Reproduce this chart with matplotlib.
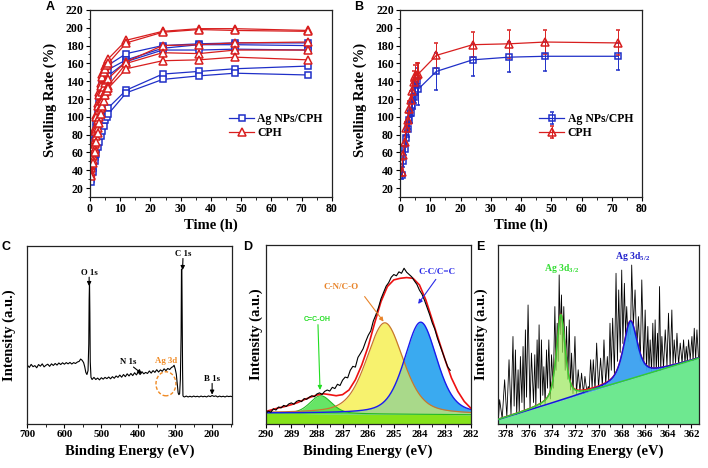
import numpy as np
import matplotlib
matplotlib.use('Agg')
import matplotlib.pyplot as plt
from matplotlib.patches import Ellipse
from matplotlib.ticker import MultipleLocator

plt.rcParams['font.family'] = 'serif'
plt.rcParams['font.serif'] = ['Liberation Serif', 'DejaVu Serif']
plt.rcParams['font.weight'] = 'bold'
plt.rcParams['axes.labelweight'] = 'bold'
plt.rcParams['mathtext.fontset'] = 'custom'
plt.rcParams['mathtext.rm'] = 'Liberation Serif:bold'
plt.rcParams['mathtext.it'] = 'Liberation Serif:italic:bold'
plt.rcParams['mathtext.bf'] = 'Liberation Serif:bold'

BLUE = '#1f2fc8'
RED = '#d81e1e'

# ---- swelling data (A: 5 replicates each, B: mean +- sd) ----
time_h = [0.5, 1, 1.5, 2, 2.5, 3, 3.5, 4, 4.5, 5, 5.5, 6, 12, 24, 36, 48, 72]

ag_rep1 = [45, 65, 80, 95, 108, 120, 130, 138, 145, 150, 155, 158, 171, 180, 182, 183, 183]
ag_rep2 = [40, 58, 73, 88, 100, 112, 122, 132, 140, 146, 150, 153, 164, 177, 181, 181, 180]
ag_rep3 = [36, 52, 66, 80, 92, 104, 114, 124, 132, 138, 142, 146, 162, 175, 175, 176, 175]
ag_rep4 = [30, 42, 55, 64, 72, 78, 85, 90, 97, 102, 106, 110, 130, 148, 151, 154, 157]
ag_rep5 = [27, 38, 50, 58, 66, 72, 78, 84, 90, 96, 100, 103, 127, 142, 146, 149, 147]

cph_rep1 = [45, 70, 88, 102, 115, 128, 138, 148, 152, 157, 162, 165, 186, 196, 199, 199, 197]
cph_rep2 = [42, 66, 84, 100, 112, 124, 135, 145, 150, 154, 158, 160, 183, 195, 198, 197, 196]
cph_rep3 = [38, 56, 70, 86, 96, 108, 118, 128, 134, 138, 141, 143, 162, 180, 181, 183, 184]
cph_rep4 = [35, 52, 64, 78, 88, 100, 110, 118, 124, 128, 132, 135, 160, 172, 171, 175, 175]
cph_rep5 = [33, 48, 60, 72, 82, 93, 103, 112, 118, 124, 129, 132, 154, 163, 164, 167, 164]

ag_mean = [35, 50, 64, 76, 86, 96, 104, 113, 122, 129, 140, 131, 151, 164, 167, 168, 168]
ag_sd = [5, 6, 7, 8, 9, 10, 11, 12, 13, 14, 15, 18, 21, 18, 17, 16, 15]
cph_mean = [38, 57, 72, 87, 96, 109, 119, 129, 139, 146, 147, 148, 169, 181, 182, 184, 183]
cph_sd = [4, 5, 6, 7, 8, 9, 10, 11, 12, 12, 13, 13, 14, 14, 16, 14, 14]

# ---- XPS survey (C), intensity in axis fraction ----
c_be = [700, 695, 690, 685, 680, 675, 670, 665, 660, 655, 650, 645, 640, 635, 630,
        625, 620, 615, 610, 605, 600, 595, 590, 585, 580, 575, 570, 565, 560, 556,
        552, 548, 545, 542, 539, 536, 534, 533, 532, 531, 530, 528, 525, 520, 515,
        510, 505, 500, 495, 490, 485, 480, 475, 470, 465, 460, 455, 450, 445, 440,
        435, 430, 425, 420, 415, 410, 405, 400, 395, 390, 385, 380, 375, 370, 365,
        360, 355, 350, 345, 340, 335, 330, 325, 320, 315, 310, 306, 303, 300, 297,
        294, 292, 290, 288, 286, 284, 283, 282, 281, 280, 279, 278, 275, 270, 265,
        260, 255, 250, 245, 240, 235, 230, 225, 220, 215, 210, 205, 200, 195, 190,
        185, 180, 175, 170, 165, 160, 155, 150, 145]
c_int = [0.330, 0.318, 0.335, 0.322, 0.328, 0.316, 0.334, 0.325, 0.338, 0.321, 0.330, 0.336, 0.324, 0.338, 0.329,
         0.340, 0.331, 0.343, 0.334, 0.344, 0.336, 0.345, 0.338, 0.346, 0.337, 0.345, 0.340, 0.348, 0.352, 0.365,
         0.358, 0.345, 0.322, 0.290, 0.278, 0.300, 0.450, 0.700, 0.800, 0.620, 0.350, 0.262, 0.250, 0.262, 0.250,
         0.258, 0.248, 0.260, 0.252, 0.262, 0.255, 0.264, 0.254, 0.266, 0.257, 0.270, 0.262, 0.275, 0.263, 0.278,
         0.266, 0.282, 0.270, 0.284, 0.272, 0.288, 0.276, 0.292, 0.278, 0.294, 0.282, 0.290, 0.284, 0.298, 0.286,
         0.300, 0.290, 0.305, 0.292, 0.304, 0.296, 0.310, 0.300, 0.312, 0.306, 0.318, 0.322, 0.330, 0.310, 0.280,
         0.220, 0.175, 0.165, 0.170, 0.250, 0.500, 0.870, 0.870, 0.600, 0.300, 0.160, 0.155, 0.152, 0.157, 0.152,
         0.156, 0.152, 0.157, 0.153, 0.156, 0.152, 0.157, 0.153, 0.156, 0.152, 0.158, 0.154, 0.160, 0.155, 0.158,
         0.152, 0.157, 0.153, 0.156, 0.152, 0.157, 0.154, 0.156, 0.153]

# ---- C 1s (D) ----
d_be = [290.0, 289.9, 289.8, 289.7, 289.6, 289.5, 289.4, 289.3, 289.2, 289.1, 289.0, 288.9, 288.8,
        288.7, 288.6, 288.5, 288.4, 288.3, 288.2, 288.1, 288.0, 287.9, 287.8, 287.7, 287.6, 287.5,
        287.4, 287.3, 287.2, 287.1, 287.0, 286.9, 286.8, 286.7, 286.6, 286.5, 286.4, 286.3, 286.2,
        286.1, 286.0, 285.9, 285.8, 285.7, 285.6, 285.5, 285.4, 285.3, 285.2, 285.1, 285.0, 284.9,
        284.8, 284.7, 284.6, 284.5, 284.4, 284.3, 284.2, 284.1, 284.0, 283.9, 283.8, 283.7, 283.6,
        283.5, 283.4, 283.3, 283.2, 283.1, 283.0, 282.9, 282.8]
d_int = [0.060, 0.072, 0.066, 0.085, 0.078, 0.095, 0.090, 0.104, 0.098, 0.112, 0.118, 0.110, 0.126,
         0.132, 0.125, 0.142, 0.138, 0.150, 0.158, 0.152, 0.168, 0.174, 0.165, 0.182, 0.190, 0.184,
         0.205, 0.198, 0.222, 0.215, 0.245, 0.262, 0.258, 0.300, 0.322, 0.318, 0.372, 0.395, 0.420,
         0.460, 0.495, 0.520, 0.575, 0.610, 0.650, 0.700, 0.735, 0.770, 0.790, 0.820, 0.835, 0.828,
         0.850, 0.842, 0.870, 0.848, 0.835, 0.822, 0.800, 0.780, 0.748, 0.725, 0.690, 0.650, 0.610,
         0.565, 0.530, 0.480, 0.440, 0.400, 0.360, 0.320, 0.300]
d_env_be = [290, 289.75, 289.5, 289.25, 289, 288.75, 288.5, 288.25, 288, 287.75, 287.5, 287.25,
            287, 286.75, 286.5, 286.25, 286, 285.75, 285.5, 285.25, 285, 284.75, 284.5, 284.25,
            284, 283.75, 283.5, 283.25, 283, 282.75, 282.5, 282.25, 282]
d_env = [0.070, 0.080, 0.090, 0.098, 0.108, 0.120, 0.136, 0.150, 0.162, 0.169, 0.164, 0.158,
         0.164, 0.190, 0.247, 0.330, 0.433, 0.563, 0.684, 0.768, 0.805, 0.814, 0.818, 0.814,
         0.777, 0.693, 0.582, 0.470, 0.359, 0.257, 0.182, 0.126, 0.089]
d_bg_ends = [0.060, 0.052]           # background at 290 and 282 eV
# fitted components: centre, height, half width, lorentz fraction
d_peaks = {'C=C-OH': (287.85, 0.100, 0.50, 0.3),
           'C-N/C-O': (285.35, 0.510, 0.85, 0.4),
           'C-C/C=C': (283.95, 0.515, 0.75, 0.4)}

# ---- Ag 3d (E) ----
e_spike_be = [378.52, 378.09, 377.71, 377.37, 377.16, 376.93, 376.73, 376.50, 376.30, 376.07,
              375.78, 375.49, 375.29, 375.12, 374.92, 374.71, 374.48, 374.28, 374.05, 373.76,
              373.56, 373.39, 373.19, 372.99, 372.76, 372.52, 372.32, 372.03, 371.75, 371.46,
              371.17, 370.88, 370.68, 370.45, 370.16, 369.82, 369.53, 369.24, 369.01, 368.78,
              368.49, 368.26, 368.00, 367.77, 367.57, 367.34, 367.14, 366.85, 366.56, 366.27,
              365.98, 365.75, 365.55, 365.32, 365.12, 364.92, 364.74, 364.54, 364.25, 363.97,
              363.68, 363.48, 363.24, 362.96, 362.67, 362.44, 362.24, 361.95, 361.75, 361.52]
e_spike_int = [0.136, 0.247, 0.359, 0.489, 0.414, 0.303, 0.377, 0.433, 0.526, 0.665,
               0.396, 0.387, 0.470, 0.554, 0.470, 0.320, 0.414, 0.470, 0.387, 0.656,
               0.563, 0.833, 0.721, 0.656, 0.545, 0.582, 0.396, 0.489, 0.303, 0.284,
               0.266, 0.210, 0.359, 0.359, 0.452, 0.368, 0.470, 0.377, 0.563, 0.591,
               0.842, 0.749, 0.860, 0.786, 0.656, 0.563, 0.888, 0.749, 0.600, 0.805,
               0.637, 0.545, 0.470, 0.563, 0.582, 0.507, 0.768, 0.489, 0.526, 0.619,
               0.637, 0.470, 0.507, 0.452, 0.470, 0.433, 0.470, 0.489, 0.535, 0.526]
e_low_be = [378.62, 378.30, 377.90, 377.54, 377.27, 377.05, 376.83, 376.60, 376.40, 376.20,
            375.90, 375.60, 375.40, 375.20, 375.00, 374.80, 374.60, 374.40, 374.15, 373.90,
            373.66, 373.47, 373.30, 373.10, 372.87, 372.64, 372.42, 372.20, 371.90, 371.60,
            371.30, 371.00, 370.80, 370.55, 370.30, 370.00, 369.67, 369.38, 369.12, 368.90,
            368.63, 368.37, 368.13, 367.90, 367.67, 367.45, 367.24, 367.00, 366.70, 366.40,
            366.10, 365.86, 365.65, 365.43, 365.22, 365.02, 364.83, 364.64, 364.40, 364.10,
            363.83, 363.58, 363.36, 363.10, 362.80, 362.55, 362.34, 362.10, 361.85, 361.63, 361.38]
e_low_int = [0.03, 0.03, 0.04, 0.05, 0.10, 0.05, 0.06, 0.12, 0.07, 0.15,
             0.08, 0.12, 0.09, 0.20, 0.10, 0.16, 0.11, 0.20, 0.14, 0.20,
             0.30, 0.35, 0.50, 0.40, 0.30, 0.25, 0.19, 0.17, 0.17, 0.18,
             0.17, 0.18, 0.19, 0.20, 0.19, 0.20, 0.21, 0.22, 0.24, 0.30,
             0.28, 0.35, 0.40, 0.45, 0.50, 0.46, 0.50, 0.55, 0.42, 0.35,
             0.33, 0.30, 0.30, 0.29, 0.30, 0.29, 0.31, 0.30, 0.31, 0.32,
             0.32, 0.33, 0.34, 0.33, 0.34, 0.34, 0.35, 0.36, 0.35, 0.36, 0.36]
e_bg_ends = [0.024, 0.368]           # background at 378.66 and 361.34 eV
e_peaks = {'Ag 3d$_{3/2}$': (373.25, 0.480, 0.45, 0.6),
           'Ag 3d$_{5/2}$': (367.25, 0.325, 0.70, 0.6)}


def pvoigt(x, c, h, w, eta):
    r = ((x - c) / w) ** 2
    return h * (eta / (1 + r) + (1 - eta) * np.exp(-np.log(2) * r))


def style_axis(ax, tick_size):
    for s in ax.spines.values():
        s.set_linewidth(0.9)
        s.set_color('#222222')
    ax.tick_params(which='both', direction='out', top=False, right=False,
                   labelsize=tick_size, pad=1.5)
    ax.tick_params(which='major', length=3, width=0.8)
    ax.tick_params(which='minor', length=1.8, width=0.6)
    for lab in ax.get_xticklabels() + ax.get_yticklabels():
        lab.set_fontweight('bold')


def swelling_axis(ax):
    ax.set_xlim(0, 80)
    ax.set_ylim(10, 220)
    ax.xaxis.set_major_locator(MultipleLocator(10))
    ax.xaxis.set_minor_locator(MultipleLocator(5))
    ax.yaxis.set_major_locator(MultipleLocator(20))
    ax.yaxis.set_minor_locator(MultipleLocator(10))
    style_axis(ax, 8.5)
    ax.set_xlabel('Time (h)', fontsize=10.5)
    ax.set_ylabel('Swelling Rate (%)', fontsize=10.5)
    ax.xaxis.set_label_coords(0.5, -0.115)
    ax.yaxis.set_label_coords(-0.135, 0.52)
    leg = ax.legend(loc='center left', bbox_to_anchor=(0.575, 0.38), frameon=False,
                    fontsize=8.5, handlelength=2.1, handletextpad=0.3,
                    labelspacing=0.15, borderpad=0, borderaxespad=0)
    for t in leg.get_texts():
        t.set_fontweight('bold')


def panel_A(ax):
    for i, rep in enumerate([ag_rep1, ag_rep2, ag_rep3, ag_rep4, ag_rep5]):
        ax.plot(time_h, rep, '-', color=BLUE, marker='s', ms=4.8, mfc='white',
                mew=1.1, lw=0.9, label='Ag NPs/CPH' if i == 0 else None)
    for i, rep in enumerate([cph_rep1, cph_rep2, cph_rep3, cph_rep4, cph_rep5]):
        ax.plot(time_h, rep, '-', color=RED, marker='^', ms=5.6, mfc='white',
                mew=1.1, lw=0.9, label='CPH' if i == 0 else None)
    swelling_axis(ax)


def panel_B(ax):
    ax.errorbar(time_h, ag_mean, yerr=ag_sd, fmt='-s', color=BLUE, ms=4.8, mfc='none',
                mew=1.1, lw=0.9, elinewidth=0.7, capsize=1.5, capthick=0.7,
                label='Ag NPs/CPH')
    ax.errorbar(time_h, cph_mean, yerr=cph_sd, fmt='-^', color=RED, ms=5.6, mfc='none',
                mew=1.1, lw=0.9, elinewidth=0.7, capsize=1.5, capthick=0.7,
                label='CPH')
    swelling_axis(ax)


def xps_axis(ax, xlim, major, minor, ylab_x):
    ax.set_xlim(*xlim)
    ax.set_ylim(0, 1)
    ax.set_yticks([])
    ax.xaxis.set_major_locator(MultipleLocator(major))
    ax.xaxis.set_minor_locator(MultipleLocator(minor))
    style_axis(ax, 7.8)
    ax.set_xlabel('Binding Energy (eV)', fontsize=10.5)
    ax.set_ylabel('Intensity (a.u.)', fontsize=10.5)
    ax.xaxis.set_label_coords(0.5, -0.115)
    ax.yaxis.set_label_coords(ylab_x, 0.5)


def arrow(ax, head, tail, color, lw=0.8):
    ax.annotate('', xy=head, xytext=tail,
                arrowprops=dict(arrowstyle='-|>', color=color, lw=lw,
                                mutation_scale=6, shrinkA=0, shrinkB=0))


def panel_C(ax):
    ax.plot(c_be, c_int, color='black', lw=0.8)
    xps_axis(ax, (700, 145), 100, 50, -0.055)
    txt = dict(fontsize=6.3, fontweight='bold', ha='center', va='center')
    ax.text(533, 0.85, 'O 1s', **txt)
    arrow(ax, (533, 0.775), (533, 0.825), 'black')
    ax.text(278, 0.955, 'C 1s', **txt)
    arrow(ax, (280, 0.865), (279, 0.93), 'black')
    ax.text(426, 0.346, 'N 1s', **txt)
    arrow(ax, (390, 0.282), (413, 0.32), 'black')
    ax.text(325, 0.352, 'Ag 3d', color='#f08a24', **txt)
    ax.add_patch(Ellipse((325, 0.226), 54, 0.135, fill=False, ls=(0, (2.5, 1.5)),
                         lw=1.0, color='#f08a24'))
    ax.text(200, 0.252, 'B 1s', **txt)
    arrow(ax, (200, 0.165), (200, 0.228), 'black')


def panel_D(ax):
    x = np.linspace(290, 282, 400)
    bg = d_bg_ends[0] + (d_bg_ends[1] - d_bg_ends[0]) * (290 - x) / 8
    comp = {k: pvoigt(x, *v) for k, v in d_peaks.items()}
    g, yl, bl = comp['C=C-OH'], comp['C-N/C-O'], comp['C-C/C=C']
    ax.fill_between(x, 0, bg, color='#86e31a', lw=0)
    ax.fill_between(x, bg, bg + yl, color='#f7f26e', lw=0)
    ax.fill_between(x, bg, bg + bl, color='#3aaaf0', lw=0)
    ax.fill_between(x, bg, bg + np.minimum(yl, bl), color='#a9d98a', lw=0)
    ax.fill_between(x, bg, bg + g, color='#33dd33', alpha=0.75, lw=0)
    ax.plot(x, bg + g, color='#22bb22', lw=0.8)
    ax.plot(x, bg + yl, color='#c8782c', lw=0.9)
    ax.plot(x, bg + bl, color='#1a1aee', lw=1.0)
    ax.plot(d_env_be, d_env, color='#ee1111', lw=1.2)
    ax.plot(d_be, d_int, color='black', lw=0.8)
    xps_axis(ax, (290, 282), 1, 0.5, -0.012)
    ax.text(288.0, 0.585, 'C=C-OH', color='#22dd22', fontsize=5, fontweight='bold',
            family='Liberation Sans', ha='center', va='center')
    arrow(ax, (287.88, 0.19), (287.96, 0.555), '#22dd22')
    ax.text(287.06, 0.768, 'C-N/C-O', color='#e8842a', fontsize=6.5, fontweight='bold',
            ha='center', va='center')
    arrow(ax, (285.4, 0.572), (286.14, 0.712), '#e8842a')
    ax.text(283.3, 0.848, 'C-C/C=C', color='#2a2ae8', fontsize=6.5, fontweight='bold',
            ha='center', va='center')
    arrow(ax, (284.05, 0.671), (283.36, 0.808), '#2a2ae8')


def panel_E(ax):
    be = np.concatenate([e_spike_be, e_low_be])
    inten = np.concatenate([e_spike_int, e_low_int])
    order = np.argsort(-be)
    ax.plot(be[order], inten[order], color='black', lw=0.6, zorder=1)
    x = np.linspace(378.66, 361.34, 500)
    bg = e_bg_ends[0] + (e_bg_ends[1] - e_bg_ends[0]) * (378.66 - x) / (378.66 - 361.34)
    (n32, p32), (n52, p52) = list(e_peaks.items())
    g = pvoigt(x, *p32)
    b = pvoigt(x, *p52)
    ax.fill_between(x, 0, bg, color='#6ee890', lw=0, zorder=2)
    ax.plot(x, bg + g + b, color='#ee1111', lw=1.0, zorder=3)
    ax.fill_between(x, bg, bg + g, color='#9be85a', alpha=0.7, lw=0, zorder=4)
    ax.fill_between(x, bg, bg + b, color='#3aa0f0', alpha=0.95, lw=0, zorder=4)
    ax.plot(x, bg + b, color='#1515dd', lw=1.1, zorder=5)
    ax.plot(x, bg + g, color='#33cc33', lw=1.1, zorder=5)
    xps_axis(ax, (378.66, 361.34), 2, 1, -0.05)
    ax.text(373.2, 0.87, n32, color='#33dd33', fontsize=7, fontweight='bold',
            ha='center', va='center')
    ax.text(367.1, 0.935, n52, color='#2222cc', fontsize=7, fontweight='bold',
            ha='center', va='center')


if __name__ == "__main__":
    fig = plt.figure(figsize=(7.08, 4.68), dpi=100)
    axA = fig.add_axes([0.1271, 0.5791, 0.3418, 0.3996])
    axB = fig.add_axes([0.5650, 0.5791, 0.3418, 0.3996])
    axC = fig.add_axes([0.0388, 0.0940, 0.2895, 0.3803])
    axD = fig.add_axes([0.3753, 0.0940, 0.2895, 0.3825])
    axE = fig.add_axes([0.7034, 0.0940, 0.2839, 0.3825])

    panel_A(axA)
    panel_B(axB)
    panel_C(axC)
    panel_D(axD)
    panel_E(axE)

    lab = dict(fontsize=9, fontweight='bold', family='Liberation Sans',
               ha='center', va='center')
    fig.text(0.0706, 0.984, 'A', **lab)
    fig.text(0.507, 0.984, 'B', **lab)
    fig.text(0.0085, 0.472, 'C', **lab)
    fig.text(0.350, 0.472, 'D', **lab)
    fig.text(0.678, 0.472, 'E', **lab)

    fig.savefig('out.png', dpi=100)
